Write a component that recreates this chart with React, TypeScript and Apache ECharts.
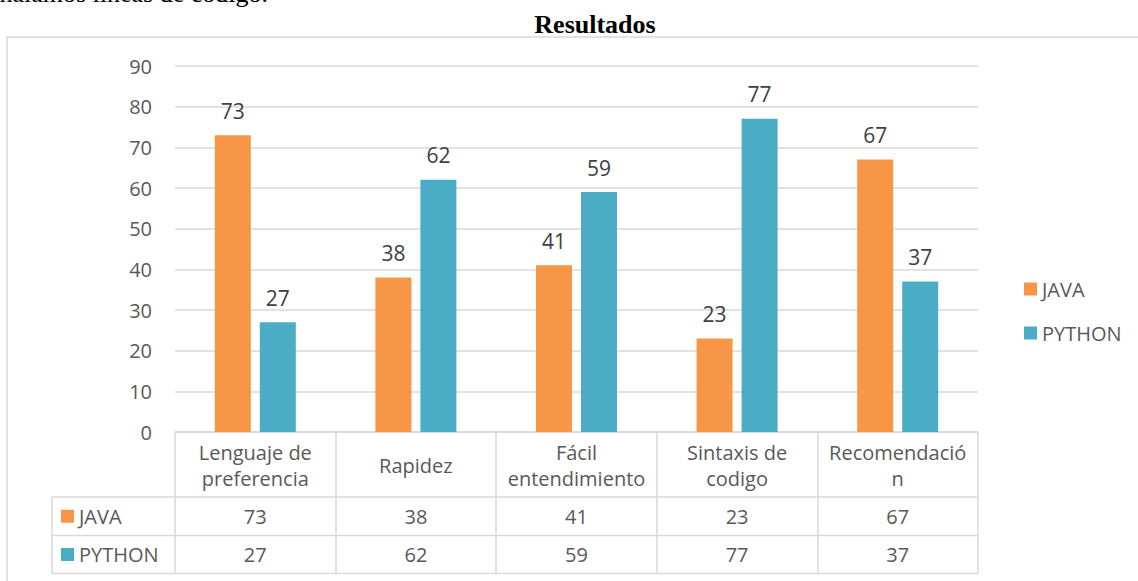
import React, { useEffect, useRef } from "react";
import * as echarts from "echarts";

const categories = [
  "Lenguaje de\npreferencia",
  "Rapidez",
  "Fácil\nentendimiento",
  "Sintaxis de\ncodigo",
  "Recomendació\nn",
];
const seriesNames = ["JAVA", "PYTHON"];
const javaValues = [73, 38, 41, 23, 67];
const pythonValues = [27, 62, 59, 77, 37];
const colors = ["#F79646", "#4BACC6"];
const yTicks = { min: 0, max: 90, interval: 10 };
const titleText = "Resultados";
const topText = "señalamos líneas de código.";

const FONT = "'Open Sans', 'Noto Sans', sans-serif";
const FS = 20;
const GRID = { left: 175, right: 160, top: 66, bottom: 149 };
const W = 1138;
const H = 581;

export default function App() {
  const ref = useRef<HTMLDivElement>(null);
  useEffect(() => {
    if (!ref.current) return;
    const chart = echarts.init(ref.current, null, { renderer: "svg" });
    const labelStyle = {
      show: true,
      position: "top",
      distance: 14,
      fontSize: 21,
      color: "#404040",
      fontFamily: FONT,
    };
    chart.setOption({
      animation: false,
      backgroundColor: "#fff",
      textStyle: { fontFamily: FONT },
      grid: { ...GRID, containLabel: false },
      legend: {
        orient: "vertical",
        left: 1019,
        top: 274,
        itemWidth: 13,
        itemHeight: 13,
        itemGap: 24,
        icon: "rect",
        data: seriesNames,
        textStyle: { fontSize: FS, color: "#595959", fontFamily: FONT },
      },
      xAxis: {
        type: "category",
        data: categories,
        axisLine: { show: true, lineStyle: { color: "#d9d9d9", width: 1.5 } },
        axisTick: {
          show: true,
          length: 141,
          alignWithLabel: false,
          lineStyle: { color: "#d9d9d9", width: 1.5 },
        },
        axisLabel: {
          interval: 0,
          margin: 33,
          verticalAlign: "middle",
          lineHeight: 26,
          fontSize: FS,
          color: "#595959",
          fontFamily: FONT,
        },
      },
      yAxis: {
        type: "value",
        min: yTicks.min,
        max: yTicks.max,
        interval: yTicks.interval,
        axisLine: { show: false },
        axisTick: { show: false },
        splitLine: { lineStyle: { color: "#d9d9d9", width: 1.5 } },
        axisLabel: {
          margin: 23,
          fontSize: FS,
          color: "#595959",
          fontFamily: FONT,
        },
      },
      series: [
        {
          name: seriesNames[0],
          type: "bar",
          data: javaValues,
          barWidth: 36,
          barGap: "25%",
          itemStyle: { color: colors[0] },
          label: labelStyle,
        },
        {
          name: seriesNames[1],
          type: "bar",
          data: pythonValues,
          barWidth: 36,
          barGap: "25%",
          itemStyle: { color: colors[1] },
          label: labelStyle,
        },
      ],
    });

    const plotRight = W - GRID.right;
    const headerBottom = 497;
    const row1Bottom = 535.5;
    const row2Bottom = 573.5;
    const tableLeft = 52;
    const lineStyle = { stroke: "#d9d9d9", lineWidth: 1.5 };
    const rows = [
      { name: seriesNames[0], values: javaValues, color: colors[0], top: headerBottom, bottom: row1Bottom },
      { name: seriesNames[1], values: pythonValues, color: colors[1], top: row1Bottom, bottom: row2Bottom },
    ];
    const elements: any[] = [
      {
        type: "rect",
        shape: { x: 7, y: 37, width: W + 20, height: H },
        style: { fill: "none", stroke: "#d9d9d9", lineWidth: 1.5 },
        silent: true,
      },
      {
        type: "text",
        x: 268,
        y: -7,
        style: {
          text: topText,
          font: "26px 'Liberation Serif', serif",
          fill: "#000",
          align: "right",
          verticalAlign: "middle",
        },
      },
      {
        type: "text",
        x: 595,
        y: 24,
        style: {
          text: titleText,
          font: "bold 26px 'Liberation Serif', serif",
          fill: "#000",
          align: "center",
          verticalAlign: "middle",
        },
      },
      { type: "line", shape: { x1: tableLeft, y1: headerBottom, x2: plotRight, y2: headerBottom }, style: lineStyle },
      { type: "line", shape: { x1: tableLeft, y1: row1Bottom, x2: plotRight, y2: row1Bottom }, style: lineStyle },
      { type: "line", shape: { x1: tableLeft, y1: row2Bottom, x2: plotRight, y2: row2Bottom }, style: lineStyle },
      { type: "line", shape: { x1: tableLeft, y1: headerBottom, x2: tableLeft, y2: row2Bottom }, style: lineStyle },
    ];
    rows.forEach((r) => {
      const cy = (r.top + r.bottom) / 2;
      elements.push({
        type: "rect",
        shape: { x: 61, y: cy - 6.5, width: 13, height: 13 },
        style: { fill: r.color },
      });
      elements.push({
        type: "text",
        x: 79,
        y: cy,
        style: { text: r.name, font: `${FS}px ${FONT}`, fill: "#595959", align: "left", verticalAlign: "middle" },
      });
      r.values.forEach((v, i) => {
        const px = chart.convertToPixel({ xAxisIndex: 0 }, i) as number;
        elements.push({
          type: "text",
          x: px,
          y: cy,
          style: { text: String(v), font: `${FS}px ${FONT}`, fill: "#595959", align: "center", verticalAlign: "middle" },
        });
      });
    });
    chart.setOption({ graphic: { elements } });
    return () => chart.dispose();
  }, []);
  return (
    <div
      ref={ref}
      style={{ position: "fixed", left: 0, top: 0, width: W, height: H }}
    />
  );
}
